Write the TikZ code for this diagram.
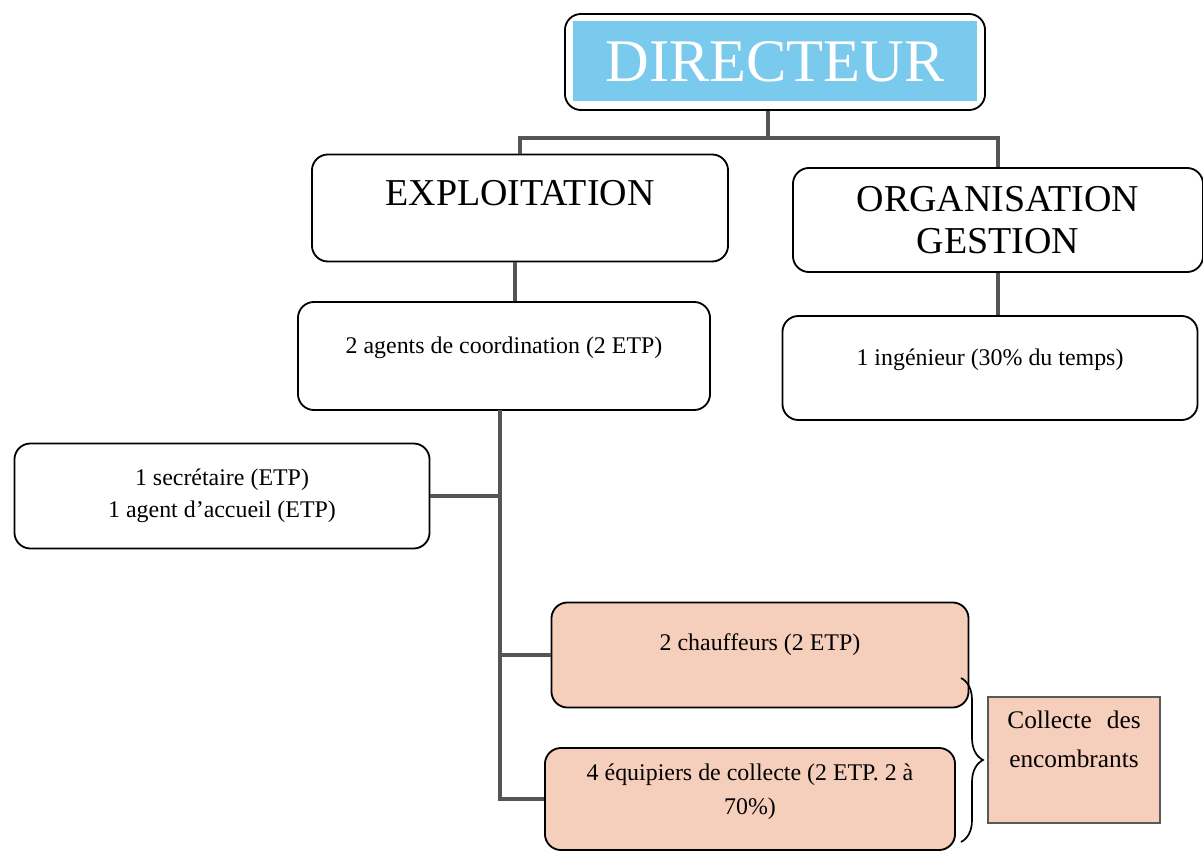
\documentclass[tikz,border=0pt]{standalone}
\usepackage{fontspec}
\setmainfont{Liberation Serif}
\usetikzlibrary{backgrounds,decorations.pathreplacing}
\definecolor{dirblue}{RGB}{122,202,238}
\definecolor{peach}{RGB}{246,206,188}
\definecolor{linkgray}{RGB}{85,85,85}
\tikzset{
  plainbox/.style={draw=black, line width=1.3pt, rounded corners=0.4cm, inner sep=0pt},
  box/.style={plainbox, align=center},
  small/.style={font=\fontsize{17}{23}\selectfont},
  big/.style={font=\fontsize{27}{30}\selectfont},
  link/.style={draw=linkgray, line width=2.6pt},
}
\begin{document}
\begin{tikzpicture}[x=0.025cm,y=-0.025cm]
\useasboundingbox (0,0) rectangle (1203,853);
% nodes
\node[box, minimum width=10.5cm, minimum height=2.4cm, text=white, font=\fontsize{43}{46}\selectfont] (dir) at (775,62) {DIRECTEUR};
\node[box, big, minimum width=10.4cm, minimum height=2.675cm, text depth=0.75cm] (exp) at (520,208) {EXPLOITATION};
\node[box, big, minimum width=10.25cm, minimum height=2.6cm] (org) at (998,220) {ORGANISATION\\GESTION};
\node[box, small, minimum width=10.3cm, minimum height=2.7cm, text depth=0.55cm] (agents) at (504,356) {2 agents de coordination (2 ETP)};
\node[box, small, minimum width=10.375cm, minimum height=2.6cm, text depth=0.55cm] (ing) at (990,368) {1 ingénieur (30\% du temps)};
\node[box, small, minimum width=10.375cm, minimum height=2.625cm] (sec) at (222,496) {1 secrétaire (ETP)\\1 agent d’accueil (ETP)};
\node[box, small, fill=peach, minimum width=10.425cm, minimum height=2.625cm, text depth=0.65cm] (chauf) at (760,655) {2 chauffeurs (2 ETP)};
\node[plainbox, small, fill=peach, minimum width=10.25cm, minimum height=2.55cm] (equip) at (750,799) {\raisebox{0.05cm}[0pt][0pt]{\begin{tabular}{@{}c@{}}4 équipiers de collecte (2 ETP. 2 à\\[1pt]70\%)\end{tabular}}};
\node[draw=black!65, line width=0.8pt, fill=peach, minimum width=4.3cm, minimum height=3.15cm, inner sep=0pt, font=\fontsize{18}{27}\selectfont] (coll) at (1074,760) {\raisebox{0.34cm}[0pt][0pt]{\begin{tabular}{@{}c@{}}Collecte\hspace{0.6em}des\\[1pt]encombrants\end{tabular}}};
% blue inner fill of the director box
\begin{scope}[on background layer]
\fill[dirblue] ([shift={(0.22cm,-0.2cm)}]dir.north west) rectangle ([shift={(-0.22cm,0.25cm)}]dir.south east);
\end{scope}
% connectors
\coordinate (bar) at (768,138);
\coordinate (trunk) at (500,410);
\draw[link] (bar |- dir.south) -- (bar);
\draw[link] (exp.north) |- (bar) -| (org.north);
\draw[link] ([xshift=-0.12cm]exp.south) -- ([xshift=-0.12cm]exp.south |- agents.north);
\draw[link] (org.south) -- (org.south |- ing.north);
\draw[link] (trunk) -- (trunk |- equip.west) -- (equip.west);
\draw[link] (trunk |- sec.east) -- (sec.east);
\draw[link] (trunk |- chauf.west) -- (chauf.west);
% brace
\coordinate (b1) at (961,678);
\coordinate (b2) at (961,842);
\draw[black, line width=1.2pt, decorate, decoration={brace, amplitude=0.55cm}] (b1) -- (b2);
\end{tikzpicture}
\end{document}
